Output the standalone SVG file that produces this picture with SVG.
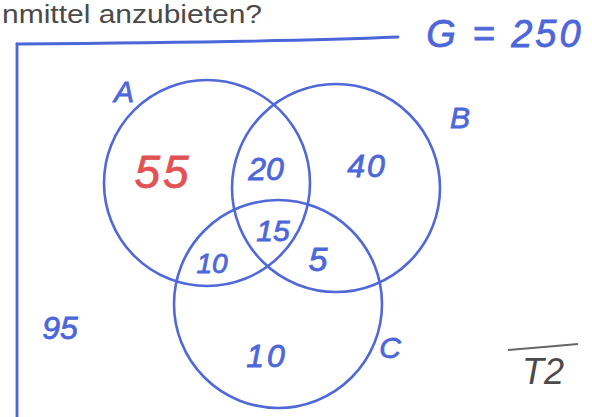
<svg xmlns="http://www.w3.org/2000/svg" width="592" height="417" viewBox="0 0 592 417">
<style>
.ring{fill:none;stroke:#5068d8;stroke-width:2.6}
.frame{fill:none;stroke:#4a66d8;stroke-width:2.8;stroke-linecap:round}
.hw{font-family:"Liberation Sans",Arial,sans-serif;font-style:italic;fill:#4d67da;stroke:#4d67da;stroke-width:0.8;text-anchor:middle}
.red{fill:#e25252;stroke:#e25252}
.gray{font-family:"Liberation Sans",Arial,sans-serif;fill:#4a4a4a}
</style>
<rect width="592" height="417" fill="#ffffff"/>
<text class="gray" x="2" y="23" font-size="26" fill="#555555" textLength="260" lengthAdjust="spacingAndGlyphs">nmittel anzubieten?</text>
<g id="frame">
<path class="frame" d="M17,44 L17,417"/>
<path class="frame" d="M17,44 C150,43 300,41 398,37"/>
</g>
<g id="total">
<text class="hw" x="505" y="47" font-size="38" letter-spacing="3">G = 250</text>
</g>
<g id="setA">
<circle class="ring" cx="207" cy="183" r="103"/>
<text class="hw" x="124" y="102" font-size="30">A</text>
</g>
<g id="setB">
<circle class="ring" cx="336" cy="188" r="104"/>
<text class="hw" x="460" y="128" font-size="30">B</text>
</g>
<g id="setC">
<circle class="ring" cx="278" cy="304" r="104"/>
<text class="hw" x="390" y="358" font-size="30">C</text>
</g>
<g id="regions">
<text class="hw red" x="163" y="188" font-size="46" letter-spacing="3">55</text>
<text class="hw" x="266" y="180" font-size="32">20</text>
<text class="hw" x="367" y="177" font-size="32" letter-spacing="2">40</text>
<text class="hw" x="273" y="241" font-size="30">15</text>
<text class="hw" x="212" y="273" font-size="28">10</text>
<text class="hw" x="318" y="271" font-size="34">5</text>
<text class="hw" x="267" y="367" font-size="32" letter-spacing="3">10</text>
<text class="hw" x="60" y="339" font-size="32">95</text>
</g>
<g id="mark">
<text class="gray" x="543" y="384" font-size="36" text-anchor="middle" fill="#666666" font-style="italic">T2</text>
<path d="M508,350 C530,348 555,346 578,344" stroke="#666666" stroke-width="2" fill="none"/>
</g>
</svg>
